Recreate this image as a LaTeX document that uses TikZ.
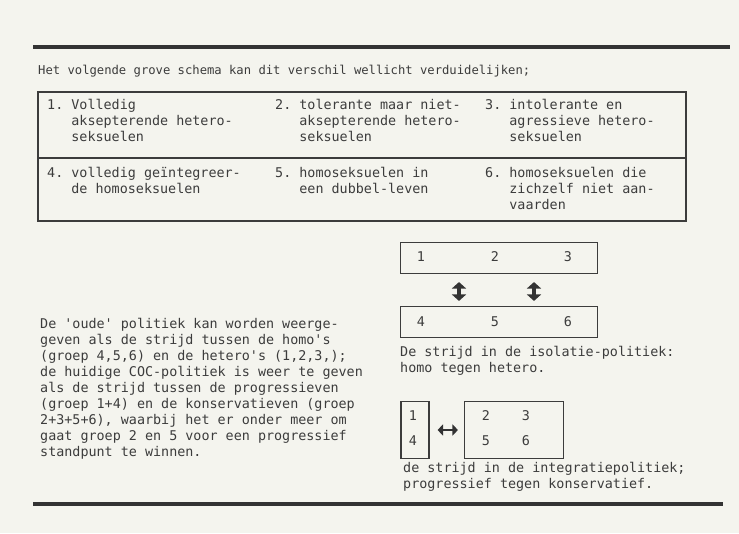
\documentclass[tikz,border=0pt]{standalone}
\usepackage{fontspec}
\setmonofont{DejaVu Sans Mono}
\usetikzlibrary{arrows.meta}
\definecolor{paper}{HTML}{F4F4EE}
\definecolor{ink}{HTML}{3C3C3C}
\begin{document}
\begin{tikzpicture}[
  x=1pt, y=-1pt,
  txt/.style={anchor=base west, inner sep=0, align=left, text=ink,
    font=\ttfamily\fontsize{13.4}{16}\selectfont},
  hdr/.style={txt, font=\ttfamily\fontsize{12.2}{16}\selectfont},
  num/.style={inner sep=0, text=ink, font=\ttfamily\fontsize{13.4}{16}\selectfont},
  box/.style={draw=ink, line width=1.1pt, inner sep=0},
  rule/.style={draw=ink, line width=1.1pt},
  bar/.style={draw=black!80, line width=4.5pt},
  dbl/.style={draw=black!80, line width=3.6pt, shorten <=8pt, shorten >=5pt,
    {Triangle[width=14pt,length=6.5pt]}-{Triangle[width=14pt,length=6.5pt]}},
  dblh/.style={draw=black!80, line width=2.8pt, shorten <=8pt, shorten >=6pt,
    {Triangle[width=11pt,length=5.5pt]}-{Triangle[width=11pt,length=5.5pt]}}
]
\useasboundingbox[fill=paper] (0,0) rectangle (739,533);

% thick rules
\draw[bar] (33,47) -- (730,47);
\draw[bar] (33,504) -- (723,504);

\node[hdr] (head) at (38,74) {Het volgende grove schema kan dit verschil wellicht verduidelijken;};

% table of the six groups (base = last line)
\draw[rule] (38,92) rectangle (686,221);
\draw[rule] (38,158) -- (686,158);
\node[txt] (g1) at (47,141) {1. Volledig\\\phantom{1.~}aksepterende hetero-\\\phantom{1.~}seksuelen};
\node[txt] (g2) at (275,141) {2. tolerante maar niet-\\\phantom{2.~}aksepterende hetero-\\\phantom{2.~}seksuelen};
\node[txt] (g3) at (485,141) {3. intolerante en\\\phantom{3.~}agressieve hetero-\\\phantom{3.~}seksuelen};
\node[txt] (g4) at (47,193) {4. volledig geïntegreer-\\\phantom{4.~}de homoseksuelen};
\node[txt] (g5) at (275,193) {5. homoseksuelen in\\\phantom{5.~}een dubbel-leven};
\node[txt] (g6) at (485,209) {6. homoseksuelen die\\\phantom{6.~}zichzelf niet aan-\\\phantom{6.~}vaarden};

\node[txt] (uitleg) at (40,456) {De 'oude' politiek kan worden weerge-\\geven als de strijd tussen de homo's\\(groep 4,5,6) en de hetero's (1,2,3,);\\de huidige COC-politiek is weer te geven\\als de strijd tussen de progressieven\\(groep 1+4) en de konservatieven (groep\\2+3+5+6), waarbij het er onder meer om\\gaat groep 2 en 5 voor een progressief\\standpunt te winnen.};

% isolatie-politiek
\node[box, minimum width=197pt, minimum height=31pt] (hetero) at (499,258) {};
\node[box, minimum width=197pt, minimum height=31pt] (homo) at (499,322) {};
\node[num] (n1) at (421,257) {1};
\node[num] (n2) at (495,257) {2};
\node[num] (n3) at (568,257) {3};
\node[num] (n4) at (421,322) {4};
\node[num] (n5) at (495,322) {5};
\node[num] (n6) at (568,322) {6};
\coordinate (ax1) at (459,0);
\coordinate (ax2) at (534,0);
\draw[dbl] (hetero.south -| ax1) -- (homo.north -| ax1);
\draw[dbl] (hetero.south -| ax2) -- (homo.north -| ax2);
\node[txt] (isol) at (400,372) {De strijd in de isolatie-politiek:\\homo tegen hetero.};

% integratiepolitiek
\node[box, minimum width=28pt, minimum height=57pt] (prog) at (415,430) {};
\node[box, minimum width=99pt, minimum height=57pt] (kons) at (514,430) {};
\node[num] (m1) at (413,416) {1};
\node[num] (m4) at (413,441) {4};
\node[num] (m2) at (486,416) {2};
\node[num] (m3) at (526,416) {3};
\node[num] (m5) at (486,441) {5};
\node[num] (m6) at (526,441) {6};
\draw[dblh] (prog) -- (kons);
\node[txt] (integ) at (403,488) {de strijd in de integratiepolitiek;\\progressief tegen konservatief.};
\end{tikzpicture}
\end{document}
